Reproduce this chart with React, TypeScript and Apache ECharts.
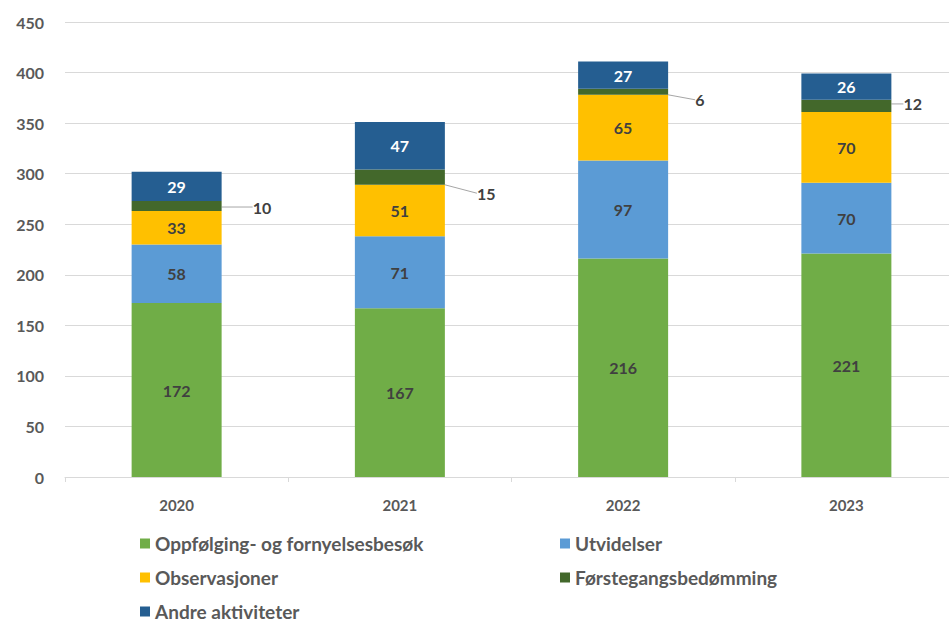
import React, { useEffect, useRef } from "react";
import * as echarts from "echarts";

const years = ["2020", "2021", "2022", "2023"];
const oppfolging = [172, 167, 216, 221];
const utvidelser = [58, 71, 97, 70];
const observasjoner = [33, 51, 65, 70];
const forstegang = [10, 15, 6, 12];
const andre = [29, 47, 27, 26];
const yTicks = { min: 0, max: 450, interval: 50 };

const names = [
  "Oppfølging- og fornyelsesbesøk",
  "Utvidelser",
  "Observasjoner",
  "Førstegangsbedømming",
  "Andre aktiviteter",
];
const colors = ["#70AD47", "#5B9BD5", "#FFC000", "#43682B", "#255E91"];

const leaderOffsets = [
  { dx: 26, dy: 1 },
  { dx: 27, dy: 16 },
  { dx: 22, dy: 8 },
  { dx: 7, dy: -2 },
];

const FONT = "Lato, 'Noto Sans', sans-serif";

export default function App() {
  const ref = useRef<HTMLDivElement>(null);
  useEffect(() => {
    if (!ref.current) return;
    const chart = echarts.init(ref.current, null, { renderer: "svg" });
    const insideLabel = (color: string) => ({
      show: true,
      position: "inside",
      color,
      fontFamily: FONT,
      fontWeight: "bold",
      fontSize: 16,
    });
    const values = [oppfolging, utvidelser, observasjoner, forstegang, andre];
    const series: any[] = values.map((v, i) => {
      const s: any = {
        name: names[i],
        type: "bar",
        stack: "total",
        data: v,
        barWidth: 90,
        itemStyle: { color: colors[i] },
        label: insideLabel(i === 4 ? "#ffffff" : "#404040"),
      };
      if (i === 3) {
        s.label = {
          show: true,
          position: "right",
          distance: 5,
          color: "#404040",
          fontFamily: FONT,
          fontWeight: "bold",
          fontSize: 16,
        };
        s.labelLayout = (p: any) => leaderOffsets[p.dataIndex];
        s.labelLine = {
          show: true,
          lineStyle: { color: "#A6A6A6", width: 1 },
        };
      }
      return s;
    });
    const legendText = {
      color: "#595959",
      fontFamily: FONT,
      fontWeight: "bold",
      fontSize: 19,
      lineHeight: 18,
    };
    const legendBase = {
      orient: "vertical",
      top: 534,
      height: 140,
      itemWidth: 10,
      itemHeight: 10,
      itemGap: 15,
      icon: "rect",
      padding: 0,
      textStyle: legendText,
    };
    chart.setOption({
      animation: false,
      grid: { left: 65, top: 22, width: 893, height: 455 },
      legend: [
        { ...legendBase, data: [names[0], names[2], names[4]], left: 140 },
        { ...legendBase, data: [names[1], names[3]], left: 560 },
      ],
      xAxis: {
        type: "category",
        data: years,
        axisLine: { lineStyle: { color: "#D9D9D9" } },
        axisTick: { show: true, length: 5, lineStyle: { color: "#D9D9D9" } },
        axisLabel: {
          color: "#595959",
          fontFamily: FONT,
          fontWeight: "bold",
          fontSize: 15,
          margin: 20,
        },
      },
      yAxis: {
        type: "value",
        min: yTicks.min,
        max: yTicks.max,
        interval: yTicks.interval,
        axisLine: { show: false },
        axisTick: { show: false },
        splitLine: { lineStyle: { color: "#D9D9D9" } },
        axisLabel: {
          color: "#595959",
          fontFamily: FONT,
          fontWeight: "bold",
          fontSize: 16,
          margin: 21,
        },
      },
      series,
    });
    return () => chart.dispose();
  }, []);
  return (
    <div style={{ position: "absolute", left: 0, top: 0, width: 949, height: 619, overflow: "hidden" }}>
      <div ref={ref} style={{ width: 960, height: 619 }} />
    </div>
  );
}
